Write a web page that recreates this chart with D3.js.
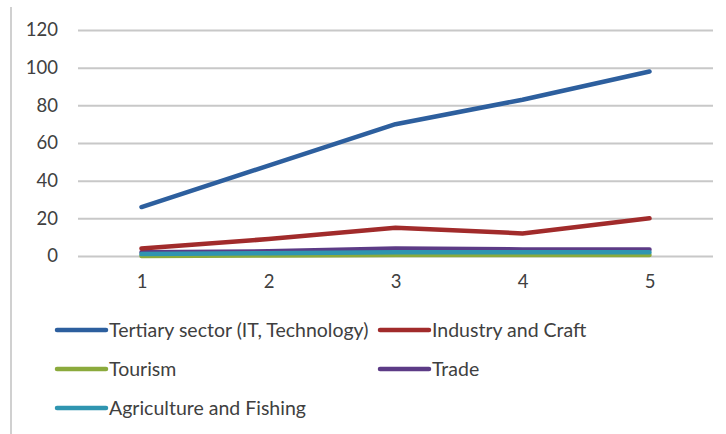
<!DOCTYPE html>
<html>
<head>
<meta charset="utf-8">
<script src="https://cdn.jsdelivr.net/npm/d3@7"></script>
<style>
  body { margin: 0; background: #fff; }
  text { font-family: Lato, 'Liberation Sans', Arial, sans-serif; fill: #404040; }
</style>
</head>
<body>
<div id="wrapper"></div>
<script>
'use strict';
//#region DATA
const periods = [1, 2, 3, 4, 5];
const yTicks = [0, 20, 40, 60, 80, 100, 120];
const seriesNames = ['Tertiary sector (IT, Technology)', 'Industry and Craft', 'Tourism', 'Trade', 'Agriculture and Fishing'];
const tertiary = [26, 48, 70, 83, 98];
const industry = [4, 9, 15, 12, 20];
const tourism = [0, 0.3, 0.5, 0.5, 0.5];
const trade = [2, 2.5, 4, 3.5, 3.5];
const agriculture = [1, 1.5, 2, 2, 2];
const seriesColours = ['#2D5F9E', '#A12B2B', '#8BAA3C', '#5C3B86', '#2F95B0'];
//#endregion DATA

//#region CHART DIMENSIONS
const dimensions = {
  width: 726,
  height: 434,
  margin: {top: 30, right: 13, bottom: 178, left: 78}
};
dimensions.plotWidth = dimensions.width - dimensions.margin.left - dimensions.margin.right;
dimensions.plotHeight = dimensions.height - dimensions.margin.top - dimensions.margin.bottom;
//#endregion CHART DIMENSIONS

//#region DRAW CANVAS
const wrapper = d3.select('#wrapper')
  .append('svg')
  .attr('width', dimensions.width)
  .attr('height', dimensions.height);

// frame edge on the left
wrapper.append('line')
  .attr('x1', 11).attr('x2', 11)
  .attr('y1', 7).attr('y2', dimensions.height)
  .attr('stroke', '#d0d0d0')
  .attr('stroke-width', 2);

const plot = wrapper.append('g')
  .attr('transform', `translate(${dimensions.margin.left}, ${dimensions.margin.top})`);
//#endregion DRAW CANVAS

//#region SCALES
const xScale = d3.scalePoint()
  .domain(periods)
  .range([0, dimensions.plotWidth])
  .padding(0.5);
const yScale = d3.scaleLinear()
  .domain([0, 120])
  .range([dimensions.plotHeight, 0]);
//#endregion SCALES

//#region DRAW PERIPHERALS
const yAxis = plot.append('g')
  .call(d3.axisLeft(yScale).tickValues(yTicks).tickSize(-dimensions.plotWidth).tickPadding(20));
yAxis.select('.domain').remove();
yAxis.selectAll('.tick line').attr('stroke', '#c8c8c8').attr('stroke-width', 2);
yAxis.selectAll('.tick text').style('font-size', '18.5px').attr('fill', '#404040');

const xAxis = plot.append('g')
  .attr('transform', `translate(0, ${dimensions.plotHeight})`)
  .call(d3.axisBottom(xScale).tickSize(0).tickPadding(19));
xAxis.select('.domain').remove();
xAxis.selectAll('.tick text').style('font-size', '18.5px').attr('fill', '#404040');
//#endregion DRAW PERIPHERALS

//#region DRAW DATA
const series = [tertiary, industry, tourism, trade, agriculture].map((values, i) => ({
  name: seriesNames[i],
  colour: seriesColours[i],
  values
}));
const lineGenerator = d3.line()
  .x((d, i) => xScale(periods[i]))
  .y(d => yScale(d));

// draw small series first so large ones sit on top, as in the source
const drawOrder = [2, 3, 4, 1, 0];
plot.selectAll('.series')
  .data(drawOrder.map(i => series[i]))
  .join('path')
  .attr('class', 'series')
  .attr('d', d => lineGenerator(d.values))
  .attr('fill', 'none')
  .attr('stroke', d => d.colour)
  .attr('stroke-width', 4.5)
  .attr('stroke-linecap', 'round')
  .attr('stroke-linejoin', 'round');
//#endregion DRAW DATA

//#region LEGEND
const legendPos = [[57, 330], [380, 330], [57, 369], [380, 369], [57, 408]];
const legend = wrapper.selectAll('.legend-item')
  .data(series)
  .join('g')
  .attr('class', 'legend-item')
  .attr('transform', (d, i) => `translate(${legendPos[i][0]}, ${legendPos[i][1]})`);
legend.append('line')
  .attr('x1', 0).attr('x2', 49)
  .attr('stroke', d => d.colour)
  .attr('stroke-width', 4.5)
  .attr('stroke-linecap', 'round');
legend.append('text')
  .attr('x', 52)
  .attr('dy', '0.35em')
  .style('font-size', '19.5px')
  .text(d => d.name);
//#endregion LEGEND
</script>
</body>
</html>
